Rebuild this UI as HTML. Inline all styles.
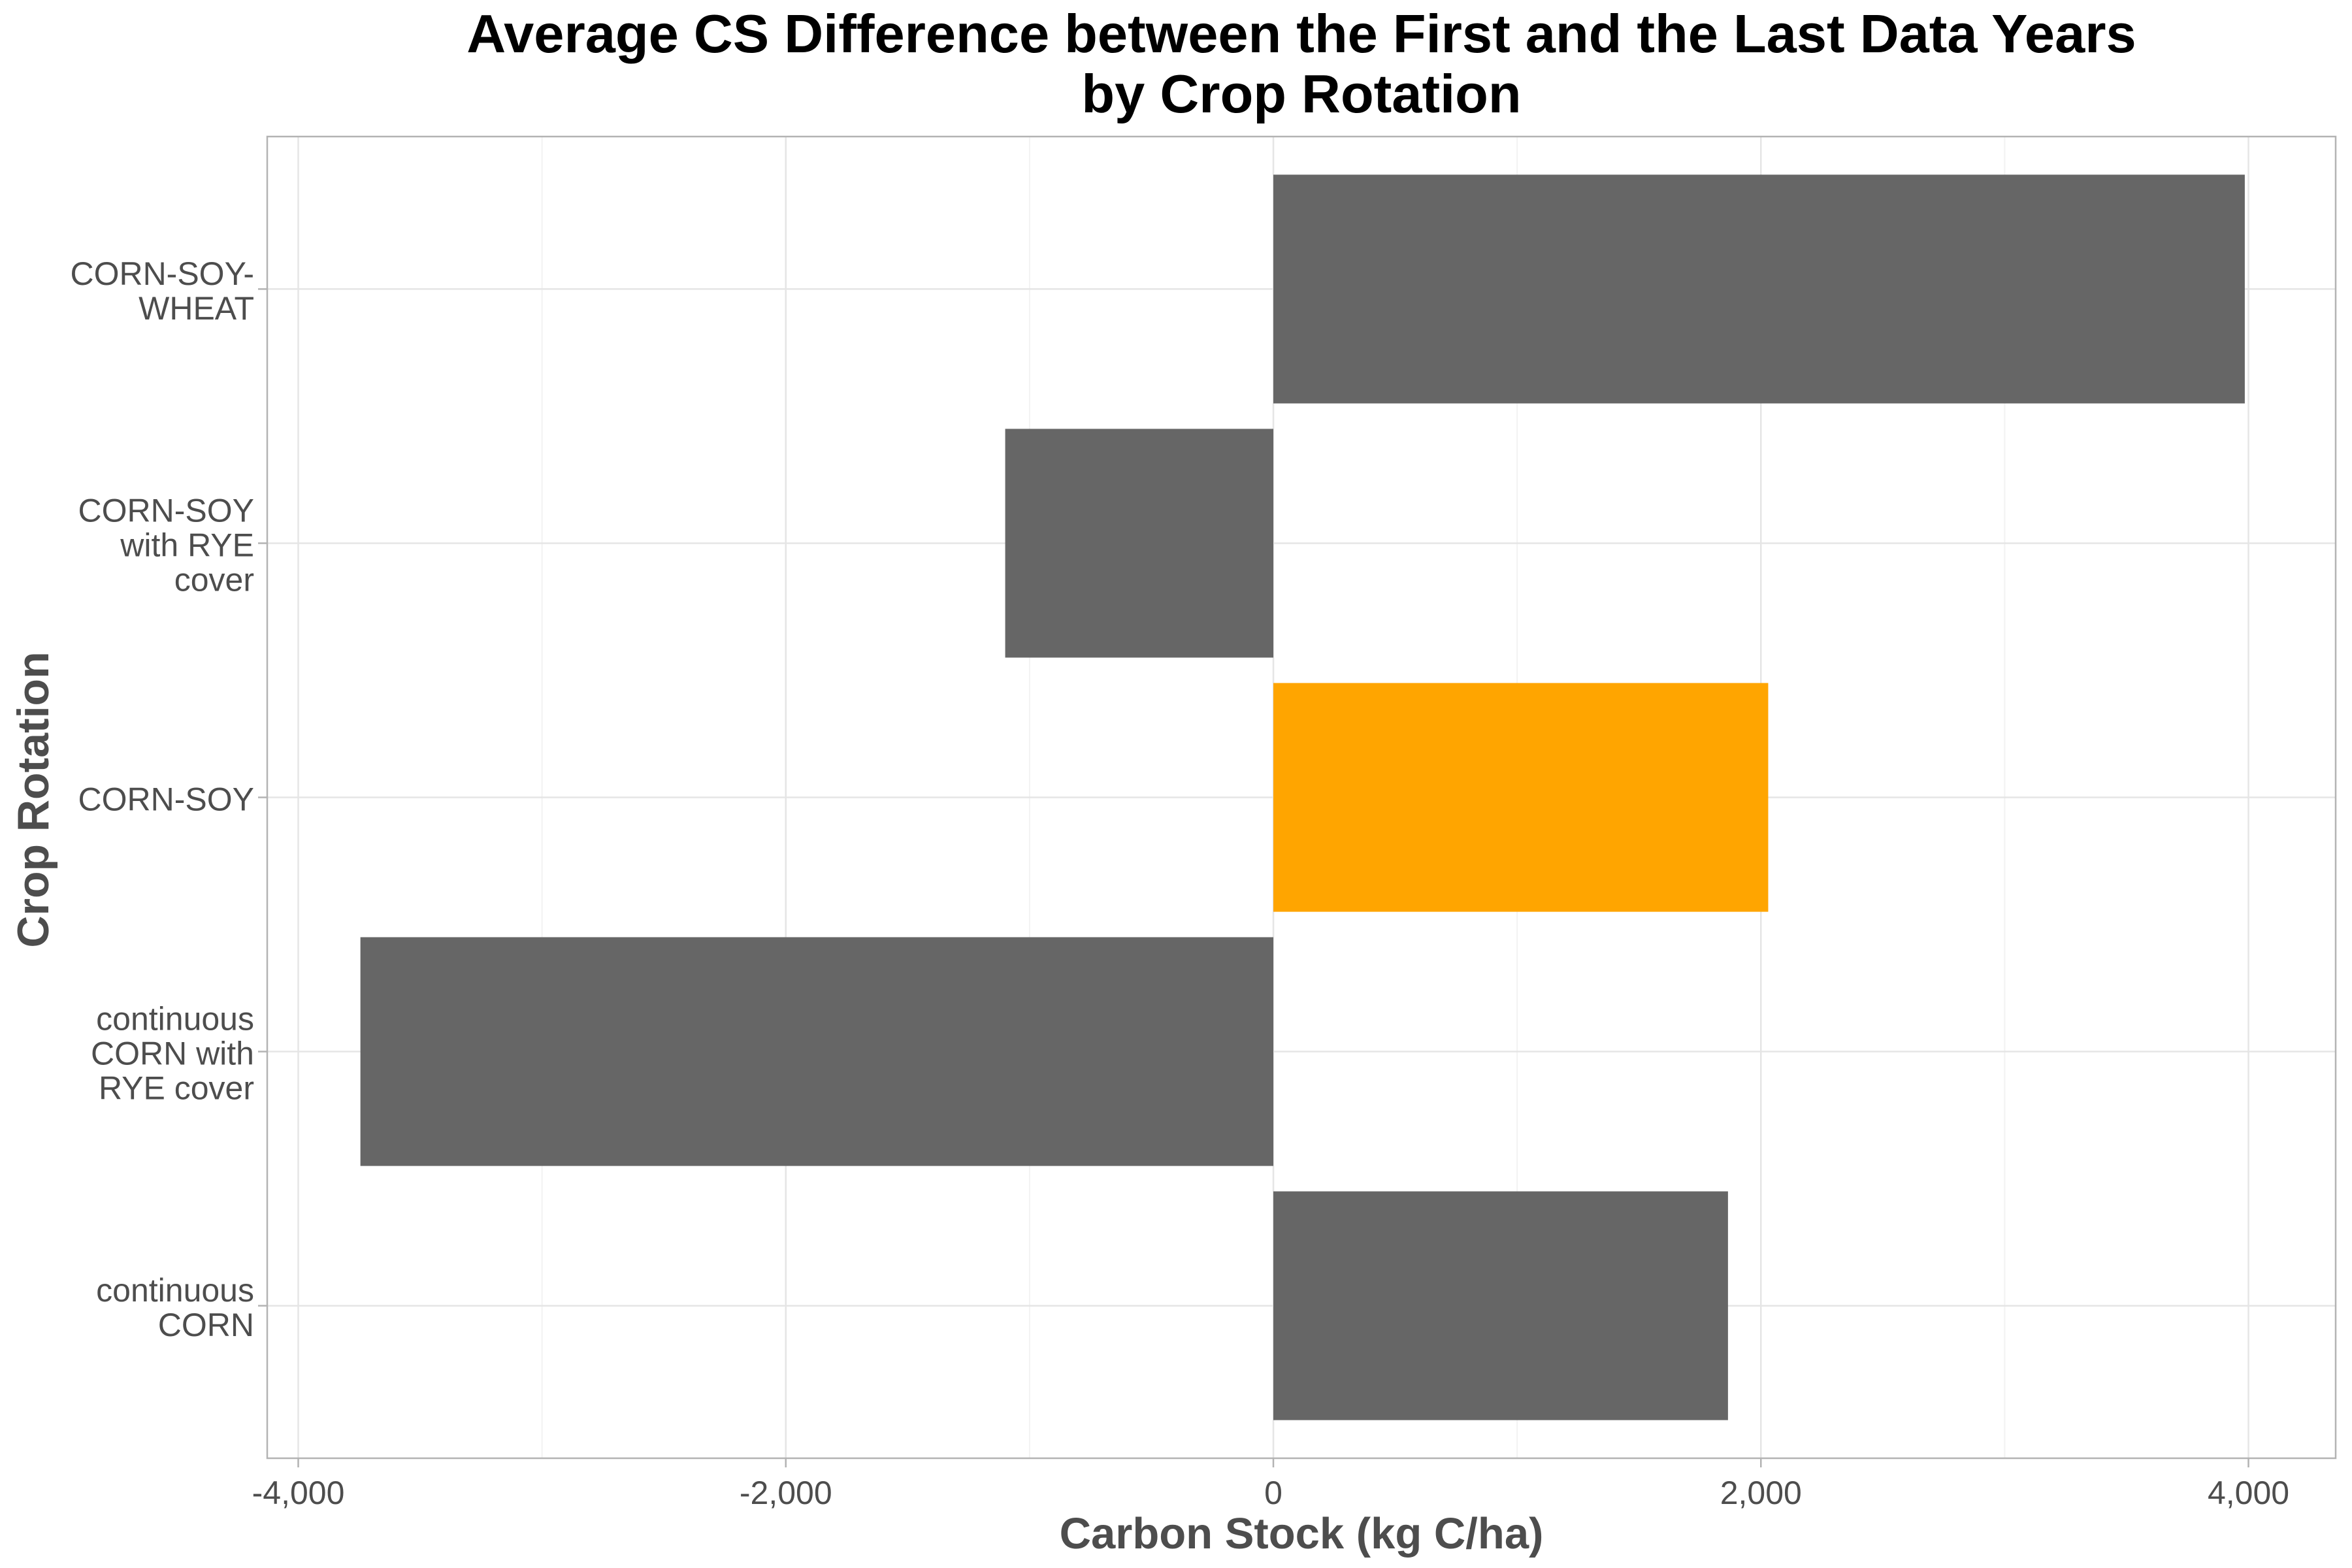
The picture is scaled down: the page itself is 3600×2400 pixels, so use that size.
<!DOCTYPE html>
<html><head><meta charset="utf-8"><style>
html,body{margin:0;padding:0;background:#fff;}
svg{display:block;font-family:"Liberation Sans",Arial,sans-serif;}
</style></head><body>
<svg id="chart" width="3600" height="2400" viewBox="0 0 3600 2400">
<rect width="3600" height="2400" fill="#fff"/>
<g id="grid"></g>
<g id="bars"></g>
<g id="axes"></g>
<text x="1992" y="80" text-anchor="middle" font-size="83" font-weight="bold" fill="#000">Average CS Difference between the First and the Last Data Years</text>
<text x="1992" y="172" text-anchor="middle" font-size="83" font-weight="bold" fill="#000">by Crop Rotation</text>
<text x="1992" y="2370" text-anchor="middle" font-size="67" font-weight="bold" fill="#4d4d4d">Carbon Stock (kg C/ha)</text>
<text transform="translate(74,1224) rotate(-90)" text-anchor="middle" font-size="68" font-weight="bold" fill="#4d4d4d">Crop Rotation</text>
</svg>
<script>
const categories = [["CORN-SOY-","WHEAT"],["CORN-SOY","with RYE","cover"],["CORN-SOY"],["continuous","CORN with","RYE cover"],["continuous","CORN"]];
const values = [3985, -1100, 2030, -3745, 1865];
const highlighted = [false, false, true, false, false];
const xTicks = [-4000, -2000, 0, 2000, 4000];
const xTickLabels = ["-4,000","-2,000","0","2,000","4,000"];
const xMinor = [-3000, -1000, 1000, 3000];

const NS = "http://www.w3.org/2000/svg";
const panel = {l:409, r:3575, t:209, b:2232};
const x = v => 1949 + v * (3437 - 452) / 8000;
const step = (panel.b - panel.t) / (categories.length + 0.2);
const y = i => panel.t + step * (0.6 + i);
function mk(tag, attrs, parent){const e=document.createElementNS(NS,tag);for(const k in attrs)e.setAttribute(k,attrs[k]);parent.appendChild(e);return e;}
const grid=document.getElementById('grid'), bars=document.getElementById('bars'), axes=document.getElementById('axes');

xMinor.forEach(v=>{const l=mk('line',{x1:x(v),x2:x(v),y1:panel.t,y2:panel.b,stroke:'#f2f2f2','stroke-width':2},grid);

});
xTicks.forEach((v,i)=>{const l=mk('line',{x1:x(v),x2:x(v),y1:panel.t,y2:panel.b,stroke:'#e5e5e5','stroke-width':2.5},grid);


const t=mk('line',{x1:x(v),x2:x(v),y1:panel.b,y2:panel.b+14,stroke:'#b3b3b3','stroke-width':2.5},axes);


const tx=mk('text',{x:x(v),y:panel.b+70,'text-anchor':'middle','font-size':50,fill:'#4d4d4d'},axes);
tx.textContent=xTickLabels[i];

});
categories.forEach((c,i)=>{const cy=y(i);
const l=mk('line',{x1:panel.l,x2:panel.r,y1:cy,y2:cy,stroke:'#e5e5e5','stroke-width':2.5},grid);


const t=mk('line',{x1:panel.l-14,x2:panel.l,y1:cy,y2:cy,stroke:'#b3b3b3','stroke-width':2.5},axes);


const lh=53, n=c.length;
const tx=mk('text',{x:panel.l-20,'text-anchor':'end','font-size':50,fill:'#4d4d4d'},axes);


c.forEach((s,j)=>{const ts=mk('tspan',{x:panel.l-20,y:cy+20+(j-(n-1)/2)*lh},tx);ts.textContent=s;});
const v=values[i], bw=step*0.9;
const r=mk('rect',{x:Math.min(x(0),x(v)),y:cy-bw/2,width:Math.abs(x(v)-x(0)),height:bw,fill:highlighted[i]?'#FFA500':'#666666'},bars);

});
const b=mk('rect',{x:panel.l,y:panel.t,width:panel.r-panel.l,height:panel.b-panel.t,fill:'none',stroke:'#b3b3b3','stroke-width':2.5},axes);


</script>
</body></html>
